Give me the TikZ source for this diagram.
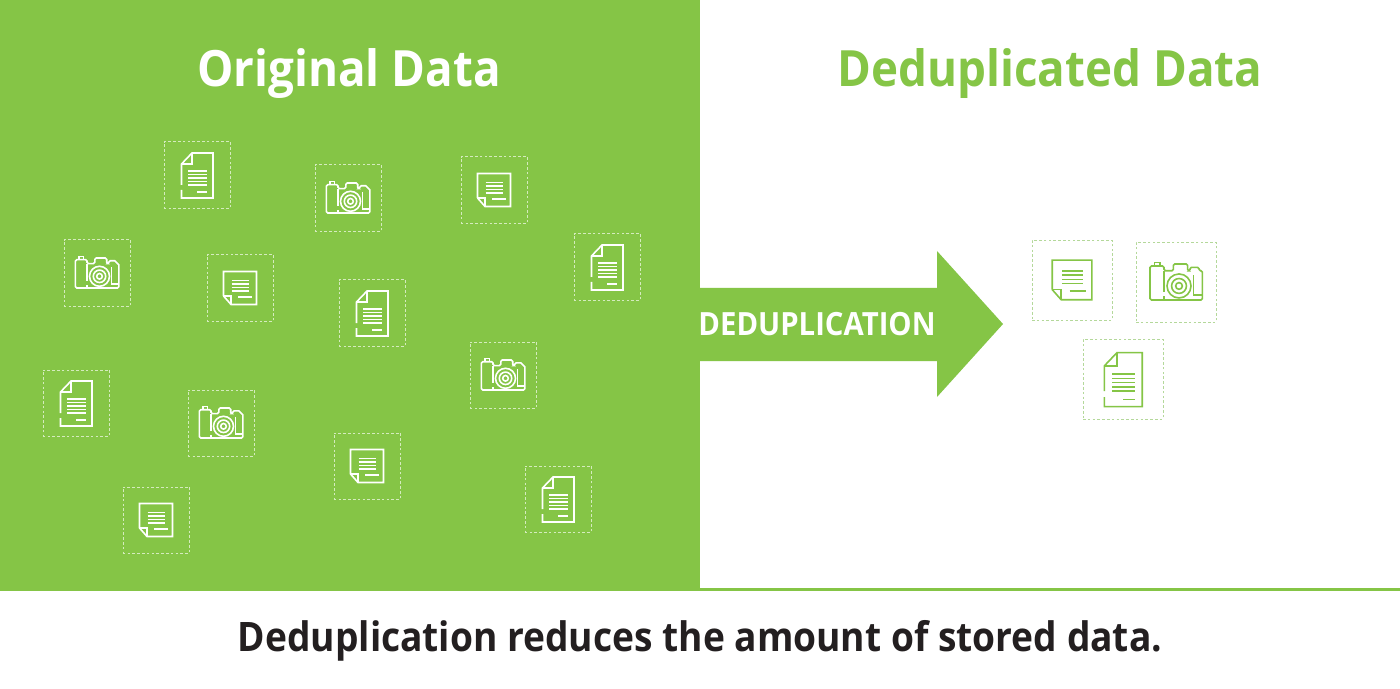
\documentclass[tikz,border=0pt]{standalone}
\usepackage{fontspec}
\setmainfont[FakeStretch=0.915]{Open Sans}
\definecolor{dedupgreen}{HTML}{85C546}
\definecolor{captionblack}{HTML}{231F20}
\definecolor{boxgreen}{HTML}{B4D89A}
\tikzset{
    iconline/.style={line width=0.8pt},
    iconbox/.style={draw, minimum size=33.2pt, inner sep=0pt, line width=0.3pt, dash pattern=on 1.3pt off 1.1pt},
    whitebox/.style={iconbox, draw=white!65!dedupgreen},
    greenbox/.style={iconbox, draw=boxgreen, minimum size=40pt},
    heading/.style={font=\bfseries\fontsize{25}{30}\selectfont},
    docicon/.pic={
        \draw[iconline] (-15.5,10) -- (-15.5,-11) -- (-5,-22) -- (16,-22) -- (16,23) -- (-15.5,23) -- (-15.5,15);
        \draw[iconline] (-15.5,-11) -- (-5,-11) -- (-5,-22);
        \draw[iconline] (-9,-4) -- (10,-4) (-9,-0.5) -- (10,-0.5) (-9,3) -- (10,3) (-9,6.5) -- (10,6.5) (-9,10) -- (10,10);
        \draw[iconline] (0,17) -- (10,17);
    },
    noteicon/.pic={
        \draw[iconline] (-16.5,8) -- (-16.5,-16.5) -- (16.5,-16.5) -- (16.5,16.5) -- (-9,16.5) -- (-16.5,8);
        \draw[iconline] (-16.5,8) -- (-9,8) -- (-9,16.5);
        \draw[iconline] (-8.5,-7.5) -- (9,-7.5) (-8.5,-4) -- (9,-4) (-8.5,-0.5) -- (9,-0.5) (-8.5,3) -- (9,3);
        \draw[iconline] (-2,9) -- (11.5,9);
    },
    cameraicon/.pic={
        \draw[iconline, rounded corners=0.7pt] (-10,-9.4) -- (-10,-13.3) -- (-21.7,-13.3) -- (-21.7,15) -- (21.9,15) -- (21.9,-9.4) -- (19.2,-9.4) -- (19.2,-12.2) -- (11.7,-12.2) -- (11.7,-9.4) -- (9.7,-9.4) -- (9.7,-15) -- (-2.2,-15) -- (-2.2,-9.4) -- cycle;
        \draw[iconline] (-10,-9.4) -- (-10,8) (-10,12) -- (-10,15);
        \draw[iconline] (-18,-13.3) -- (-18,-16.4) -- (-13.5,-16.4) -- (-13.5,-13.3);
        \draw[iconline] (14.4,-5.8) -- (14.4,10.8) -- (21.9,10.8);
        \draw[iconline] (2.5,3.3) circle (10);
        \draw[iconline] (2.5,3.3) circle (6.2);
        \draw[iconline] (2.5,3.3) circle (2.8);
    }
}
\begin{document}
\begin{tikzpicture}[x=0.5pt,y=-0.5pt]
    \useasboundingbox (0,0) rectangle (1400,689);
    \fill[white] (0,0) rectangle (1400,689);
    \fill[dedupgreen] (0,0) rectangle (700,591);
    \fill[dedupgreen] (700,588) rectangle (1400,591);
    \fill[dedupgreen] (700,288) -- (937,288) -- (937,251) -- (1003,324) -- (937,397) -- (937,361) -- (700,361) -- cycle;

    \node[heading, text=white] (original) at (349,74) {Original Data};
    \node[heading, text=dedupgreen] (deduplicated) at (1050,74) {Deduplicated Data};
    \node[text=white, font=\bfseries\fontsize{16}{18}\selectfont] (arrowlabel) at (817,324) {DEDUPLICATION};
    \node[text=captionblack, font=\bfseries\fontsize{20.3}{24}\selectfont] (caption) at (700,641) {Deduplication reduces the amount of stored data.};

    \node[whitebox] (doc1) at (197,175) {};
    \node[whitebox] (doc2) at (607,267) {};
    \node[whitebox] (doc3) at (372,313) {};
    \node[whitebox] (doc4) at (76,403) {};
    \node[whitebox] (doc5) at (558,499) {};
    \node[whitebox] (cam1) at (348,198) {};
    \node[whitebox] (cam2) at (97,273) {};
    \node[whitebox] (cam3) at (503,375) {};
    \node[whitebox] (cam4) at (221,423) {};
    \node[whitebox] (note1) at (494,190) {};
    \node[whitebox] (note2) at (240,288) {};
    \node[whitebox] (note3) at (367,466) {};
    \node[whitebox] (note4) at (156,520) {};

    \pic[white] at (doc1) {docicon};
    \pic[white] at (doc2) {docicon};
    \pic[white] at (doc3) {docicon};
    \pic[white] at (doc4) {docicon};
    \pic[white] at (doc5) {docicon};
    \pic[white] at (cam1) {cameraicon};
    \pic[white] at (cam2) {cameraicon};
    \pic[white] at (cam3) {cameraicon};
    \pic[white] at (cam4) {cameraicon};
    \pic[white] at (note1) {noteicon};
    \pic[white] at (note2) {noteicon};
    \pic[white] at (note3) {noteicon};
    \pic[white] at (note4) {noteicon};

    \node[greenbox] (savednote) at (1072,280) {};
    \node[greenbox] (savedcam) at (1176,282) {};
    \node[greenbox] (saveddoc) at (1123,379) {};
    \pic[dedupgreen, scale=1.2] at (savednote) {noteicon};
    \pic[dedupgreen, scale=1.2] at (savedcam) {cameraicon};
    \pic[dedupgreen, scale=1.2] at (saveddoc) {docicon};
\end{tikzpicture}
\end{document}
